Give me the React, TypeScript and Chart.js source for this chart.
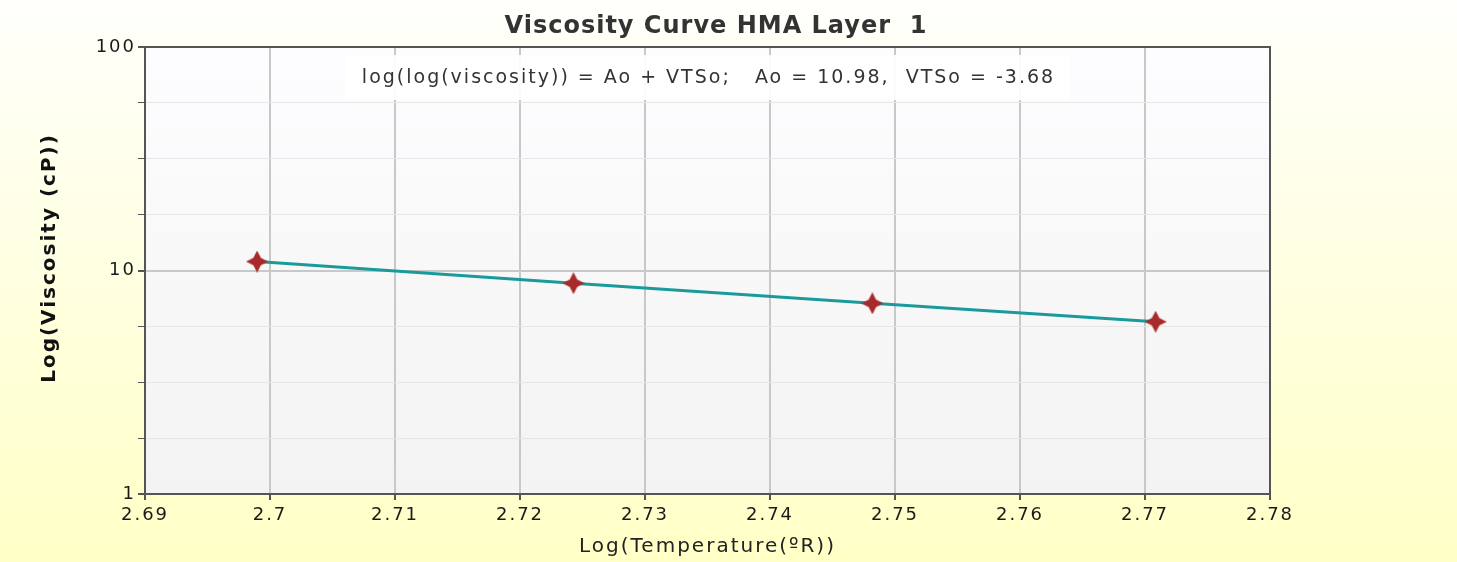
import React, { useEffect, useRef } from 'react';
import { Chart, registerables } from 'chart.js';

Chart.register(...registerables);

// ---- Data ----
const logTemperature = [2.69897, 2.72428, 2.74819, 2.77085];
const logViscosity = [10.97, 8.77, 7.13, 5.9];

const xTickValues = [2.69, 2.7, 2.71, 2.72, 2.73, 2.74, 2.75, 2.76, 2.77, 2.78];
const xTickLabels = ['2.69', '2.7', '2.71', '2.72', '2.73', '2.74', '2.75', '2.76', '2.77', '2.78'];
const yGridValues = [1, 1.778, 3.162, 5.623, 10, 17.78, 31.62, 56.23, 100];
const yTickLabels = ['1', '', '', '', '10', '', '', '', '100'];

const chartTitle = 'Viscosity Curve HMA Layer  1';
const equationText = 'log(log(viscosity)) = Ao + VTSo;   Ao = 10.98,  VTSo = -3.68';
const xAxisTitle = 'Log(Temperature(\u00BAR))';
const yAxisTitle = 'Log(Viscosity (cP))';

const FONT = "'DejaVu Sans', Verdana, sans-serif";

function makeStar(size: number, color: string): HTMLCanvasElement {
  const c = document.createElement('canvas');
  c.width = size;
  c.height = size;
  const ctx = c.getContext('2d')!;
  const r = size / 2;
  const ri = r * 0.48;
  ctx.beginPath();
  for (let i = 0; i < 8; i++) {
    const ang = -Math.PI / 2 + (i * Math.PI) / 4;
    const rad = i % 2 === 0 ? r : ri;
    const px = r + rad * Math.cos(ang);
    const py = r + rad * Math.sin(ang);
    if (i === 0) ctx.moveTo(px, py);
    else ctx.lineTo(px, py);
  }
  ctx.closePath();
  ctx.fillStyle = color;
  ctx.fill();
  return c;
}

const backgroundPlugin = {
  id: 'bgPlugin',
  beforeDraw(chart: any) {
    const { ctx, width, height, chartArea } = chart;
    ctx.save();
    const g = ctx.createLinearGradient(0, 0, 0, height);
    g.addColorStop(0, '#fffffc');
    g.addColorStop(1, '#ffffc6');
    ctx.fillStyle = g;
    ctx.fillRect(0, 0, width, height);
    const { left, top, right, bottom } = chartArea;
    const g2 = ctx.createLinearGradient(0, top, 0, bottom);
    g2.addColorStop(0, '#fdfdff');
    g2.addColorStop(1, '#f3f3f3');
    ctx.fillStyle = g2;
    ctx.fillRect(left, top, right - left, bottom - top);
    ctx.restore();
    // wider text spacing, closer to the original Verdana rendering
    (ctx as any).letterSpacing = '2px';
  },
  beforeDatasetsDraw(chart: any) {
    const { ctx, chartArea } = chart;
    const { left, top, right, bottom } = chartArea;
    ctx.save();
    // equation box
    ctx.fillStyle = 'rgba(255,255,255,0.92)';
    ctx.fillRect(345, 55, 725, 45);
    ctx.font = `19px ${FONT}`;
    (ctx as any).letterSpacing = '2px';
    ctx.fillStyle = '#333333';
    ctx.textAlign = 'center';
    ctx.textBaseline = 'middle';
    ctx.fillText(equationText, (left + right) / 2 + 1, 78);
    // frame
    ctx.strokeStyle = '#555555';
    ctx.lineWidth = 2;
    ctx.strokeRect(left, top, right - left, bottom - top);
    ctx.restore();
  },
  afterDraw(chart: any) {
    const { ctx } = chart;
    // chart title
    ctx.save();
    (ctx as any).letterSpacing = '1px';
    ctx.font = `bold 24px ${FONT}`;
    ctx.fillStyle = '#333333';
    ctx.textAlign = 'center';
    ctx.textBaseline = 'alphabetic';
    ctx.fillText(chartTitle, 716, 33);
    ctx.restore();
    // y axis title
    ctx.save();
    (ctx as any).letterSpacing = '2px';
    ctx.translate(50, 258);
    ctx.rotate(-Math.PI / 2);
    ctx.font = `bold 20px ${FONT}`;
    ctx.fillStyle = '#111111';
    ctx.textAlign = 'center';
    ctx.textBaseline = 'middle';
    ctx.fillText(yAxisTitle, 0, 0);
    ctx.restore();
  },
};

export default function App() {
  const ref = useRef<HTMLCanvasElement | null>(null);

  useEffect(() => {
    if (!ref.current) return;
    const star = makeStar(22, '#a82a2a');
    const chart = new Chart(ref.current, {
      type: 'line',
      data: {
        datasets: [
          {
            label: 'Viscosity',
            data: logTemperature.map((x, i) => ({ x, y: logViscosity[i] })),
            borderColor: '#1a9a9a',
            borderWidth: 3,
            pointStyle: star as any,
            pointRadius: 11,
            pointHoverRadius: 11,
            tension: 0,
            fill: false,
          },
        ],
      },
      options: {
        responsive: false,
        animation: false,
        devicePixelRatio: 1,
        layout: { padding: { left: 0, right: 187, top: 47, bottom: 0 } },
        plugins: {
          legend: { display: false },
          tooltip: { enabled: false },
          title: { display: false, text: chartTitle },
        },
        scales: {
          x: {
            type: 'linear',
            min: 2.69,
            max: 2.78,
            afterBuildTicks: (s: any) => {
              s.ticks = xTickValues.map((v) => ({ value: v }));
            },
            afterFit: (s: any) => {
              s.height = 68;
            },
            ticks: {
              autoSkip: false,
              maxRotation: 0,
              padding: 5,
              color: '#1a1a1a',
              font: { family: FONT, size: 18 },
              callback: (_v: any, i: number) => xTickLabels[i],
            },
            grid: {
              color: '#c8c8c8',
              lineWidth: 2,
              tickLength: 6,
              tickColor: '#555555',
            },
            border: { display: true, color: '#555555', width: 2 },
            title: {
              display: true,
              text: xAxisTitle,
              color: '#222222',
              font: { family: FONT, size: 20 },
              padding: { top: 0, bottom: 3 },
            },
          },
          y: {
            type: 'logarithmic',
            min: 1,
            max: 100,
            afterBuildTicks: (s: any) => {
              s.ticks = yGridValues.map((v) => ({ value: v }));
            },
            afterFit: (s: any) => {
              s.width = 145;
            },
            ticks: {
              autoSkip: false,
              padding: 2,
              color: '#1a1a1a',
              font: { family: FONT, size: 18 },
              callback: (_v: any, i: number) => yTickLabels[i],
            },
            grid: {
              color: (c: any) => (c.index % 4 === 0 ? '#c8c8c8' : '#e6e6e6'),
              lineWidth: (c: any) => (c.index % 4 === 0 ? 2 : 1),
              tickLength: 7,
              tickColor: '#555555',
            },
            border: { display: true, color: '#555555', width: 2 },
            title: { display: false, text: yAxisTitle },
          },
        },
      },
      plugins: [backgroundPlugin],
    });
    return () => chart.destroy();
  }, []);

  return (
    <div style={{ position: 'absolute', left: 0, top: 0, width: 1457, height: 562 }}>
      <canvas ref={ref} width={1457} height={562} />
    </div>
  );
}
